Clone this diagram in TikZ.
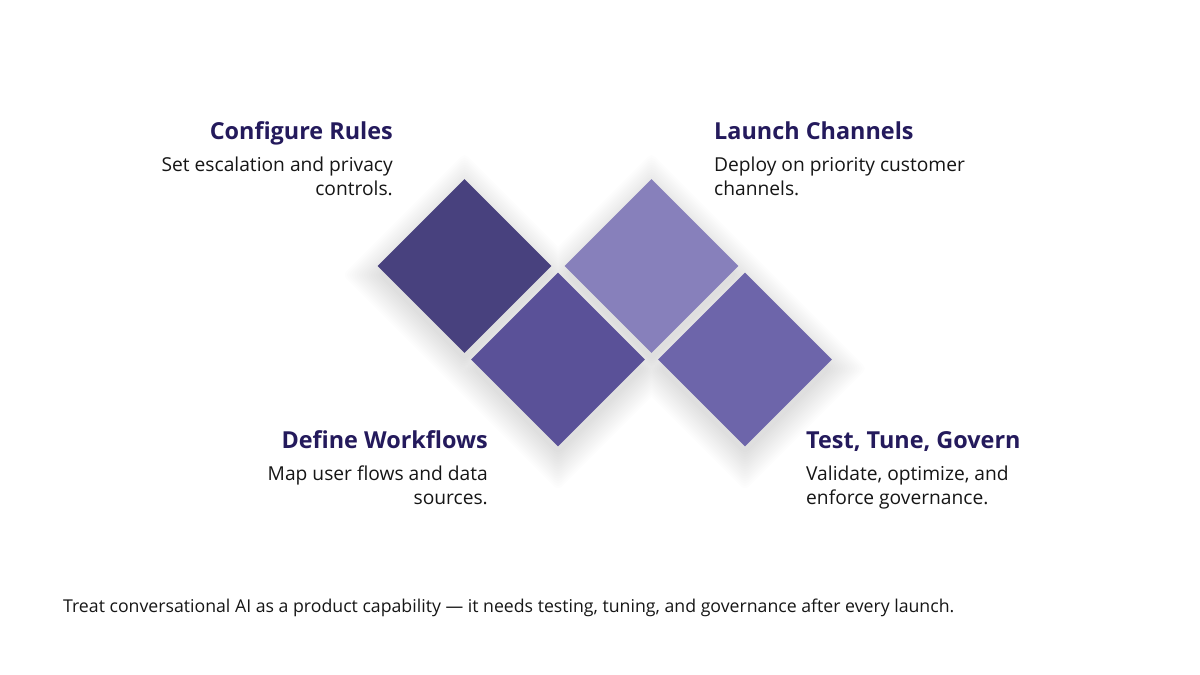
\documentclass[tikz,border=0pt]{standalone}
\usepackage{fontspec}
\setmainfont{Open Sans}
\usepackage{xcolor}
\usetikzlibrary{positioning,calc}
\definecolor{tileA}{HTML}{48417E}
\definecolor{tileB}{HTML}{5A5198}
\definecolor{tileC}{HTML}{8780BB}
\definecolor{tileD}{HTML}{6D65AA}
\definecolor{headink}{HTML}{241A5C}
\definecolor{ink}{HTML}{161616}
\tikzset{
  tile/.style={rectangle,rotate=45,minimum size=123pt,inner sep=0pt,draw=none},
  halo/.style={fill=black,opacity=.0075,rounded corners=5pt},
  head/.style={inner sep=0pt,text=headink,font=\fontsize{23.4}{27}\selectfont\bfseries},
  desc/.style={inner sep=0pt,text=ink,font=\fontsize{19.2}{24}\selectfont},
  caption/.style={inner sep=0pt,text=ink,font=\fontsize{17.7}{21}\selectfont}
}

\begin{document}
\begin{tikzpicture}[x=1pt,y=-1pt]
  \useasboundingbox[fill=white] (0,0) rectangle (1200,675);
  % soft shadow under the tiles, one union per layer
  \foreach \k in {1,...,16} {
    \pgfmathsetmacro\h{(118+3.4*\k)/sqrt(2)}
    \fill[halo] foreach \cx/\cy in {464.5/275,558/368.5,651.5/275,745/368.5} {
      (\cx-\h,\cy) -- (\cx,\cy-\h) -- (\cx+\h,\cy) -- (\cx,\cy+\h) -- cycle
    };
  }
  \node[tile,fill=tileA] (rules) at (464.5,266) {};
  \node[tile,fill=tileB] (flows) at (558,359.5) {};
  \node[tile,fill=tileC] (launch) at (651.5,266) {};
  \node[tile,fill=tileD] (govern) at (745,359.5) {};

  \node[head,anchor=base east] (rulesT) at (393,139) {Configure Rules};
  \node[desc,anchor=north east,align=right] (rulesD) at (393,157) {Set escalation and privacy\\controls.};
  \node[head,anchor=base west] (launchT) at (714,139) {Launch Channels};
  \node[desc,anchor=north west,align=left] (launchD) at (714,157) {Deploy on priority customer\\channels.};
  \node[head,anchor=base east] (flowsT) at (488,448) {Define Workflows};
  \node[desc,anchor=north east,align=right] (flowsD) at (488,466) {Map user flows and data\\sources.};
  \node[head,anchor=base west] (governT) at (806,448) {Test, Tune, Govern};
  \node[desc,anchor=north west,align=left] (governD) at (806,466) {Validate, optimize, and\\enforce governance.};

  \node[caption,anchor=base west] (note) at (63,612) {Treat conversational AI as a product capability — it needs testing, tuning, and governance after every launch.};
\end{tikzpicture}
\end{document}
